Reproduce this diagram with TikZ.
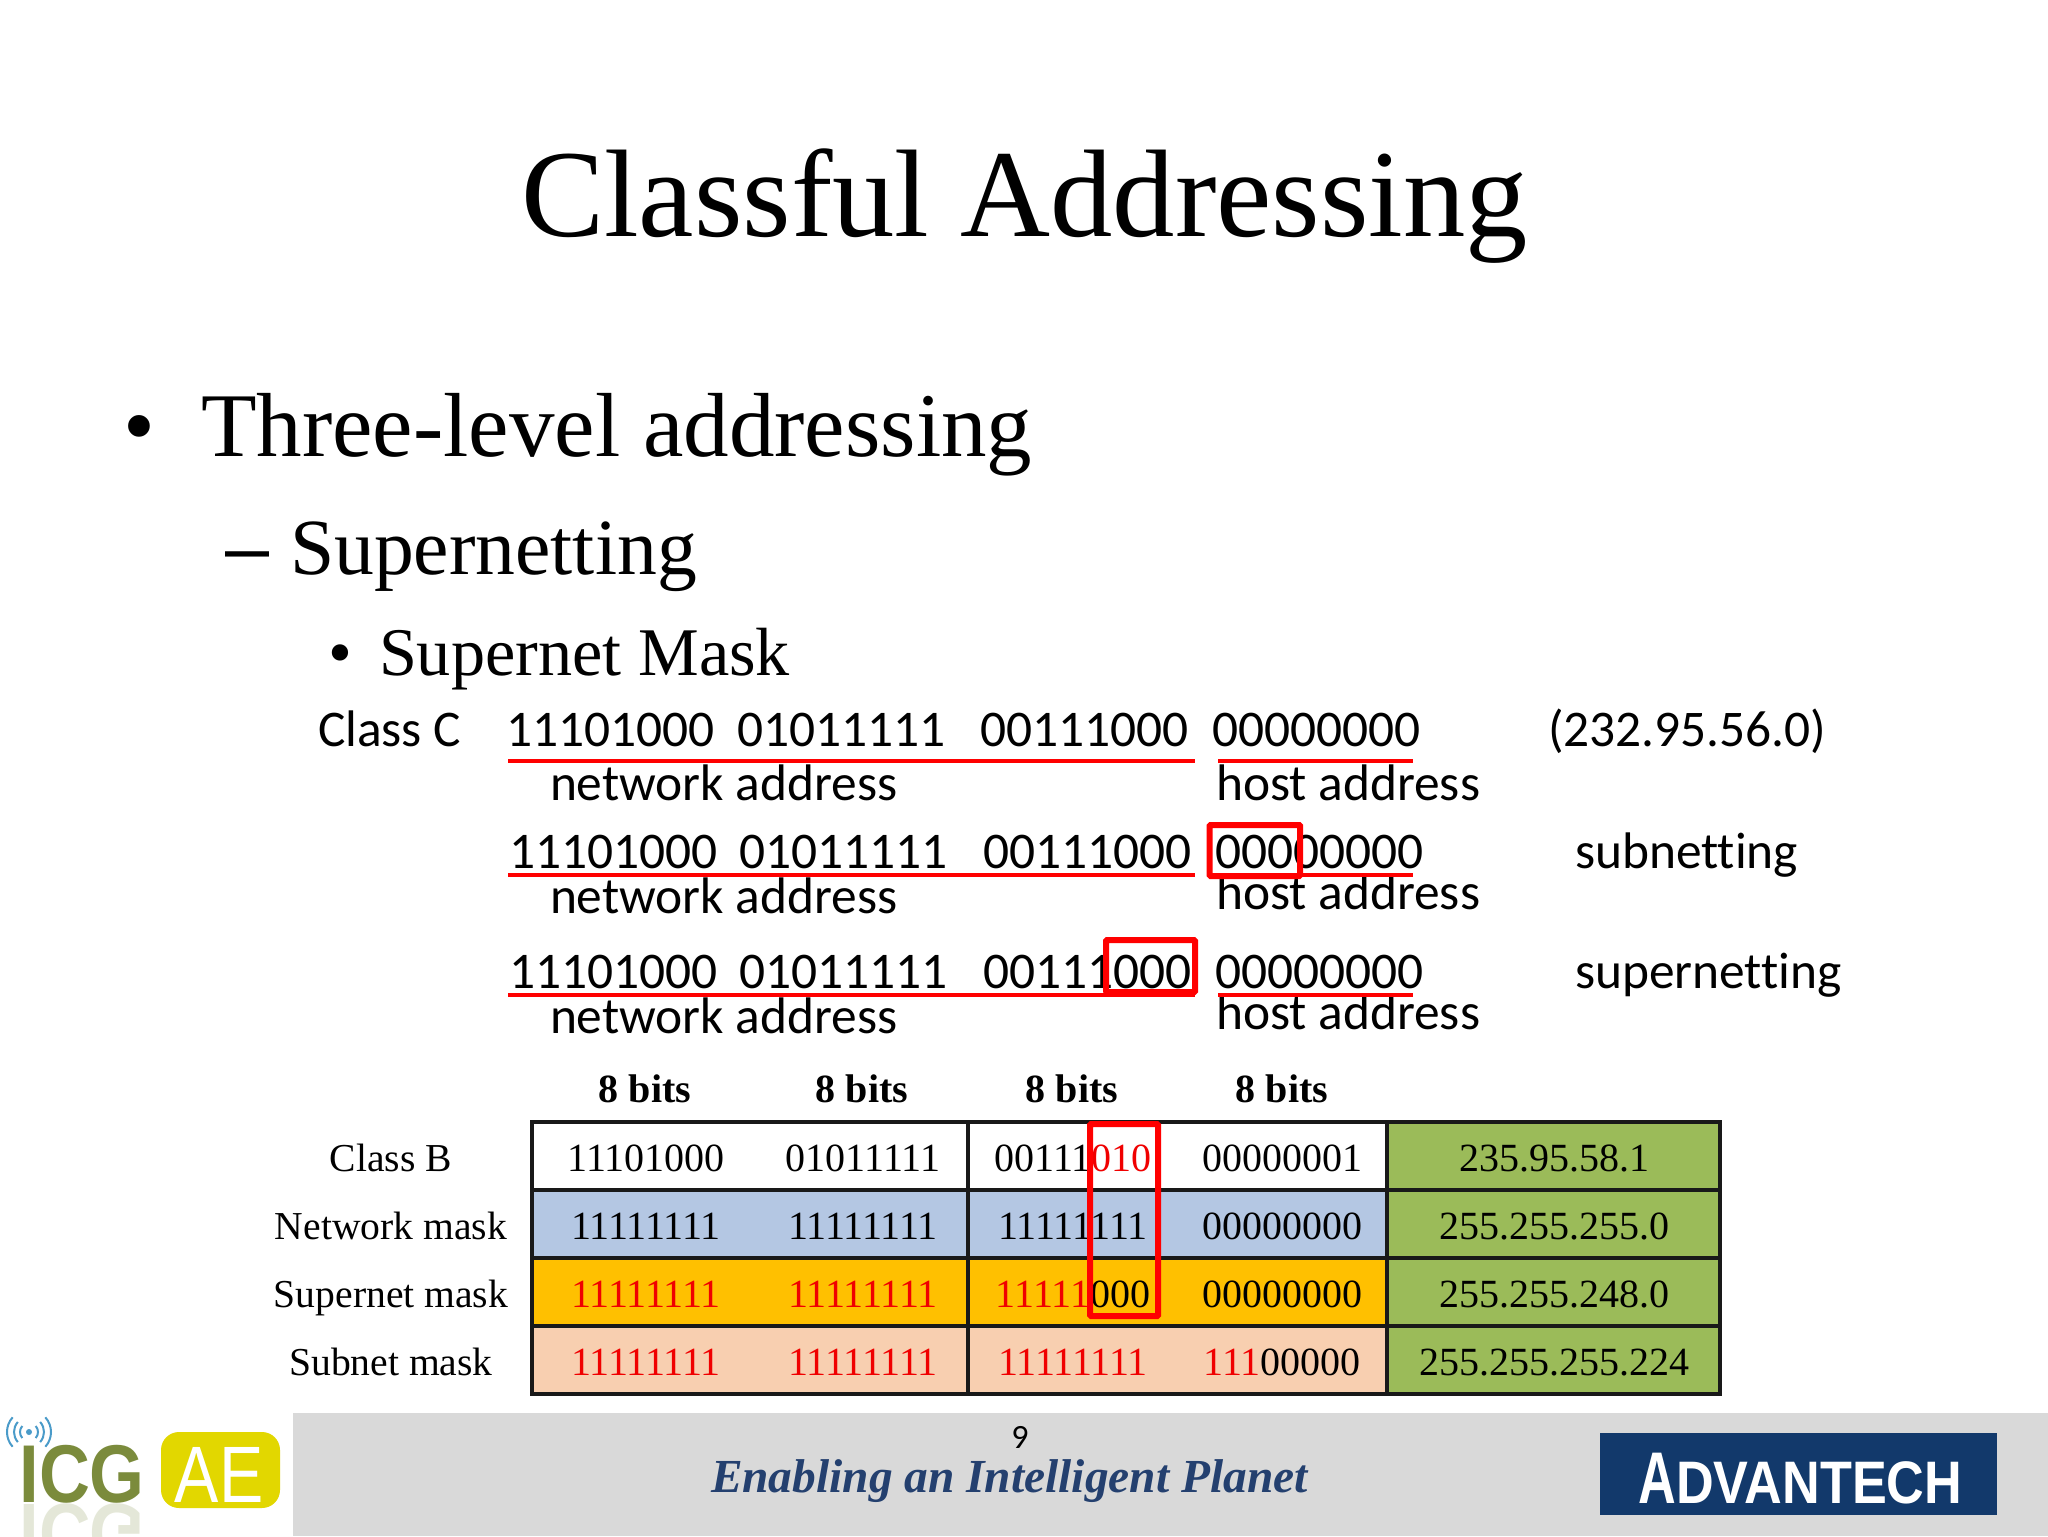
\documentclass[tikz,border=0pt]{standalone}
\usepackage{fontspec}
\usepackage{graphicx}
\setmainfont{Liberation Serif}
\newfontfamily\carl[Ligatures=NoCommon]{Carlito}
\newfontfamily\arl{Liberation Sans}
\definecolor{navy}{HTML}{12396B}
\definecolor{tagline}{HTML}{24406F}
\definecolor{band}{HTML}{D9D9D9}
\definecolor{cblue}{HTML}{B4C7E3}
\definecolor{corange}{HTML}{FFC000}
\definecolor{cpeach}{HTML}{F8CFB0}
\definecolor{cgreen}{HTML}{9BBB59}
\definecolor{olive}{HTML}{7B8B3C}
\definecolor{logoy}{HTML}{E2D700}
\definecolor{sig}{HTML}{4A9BC9}
\definecolor{redm}{HTML}{F00000}
\newcommand{\fs}[1]{\fontsize{#1}{#1}\selectfont}
\newcommand{\rd}[1]{\textcolor{redm}{#1}}
\usetikzlibrary{calc}
\tikzset{
  txt/.style={inner sep=0pt,outer sep=0pt,anchor=base west,font=\fs{25.7}\carl},
  serifline/.style={inner sep=0pt,outer sep=0pt,anchor=base west},
  cell/.style={inner sep=0pt,outer sep=0pt,anchor=base,font=\fs{20}},
  lab/.style={inner sep=0pt,outer sep=0pt,anchor=base,font=\fs{19.8}},
  grid/.style={line width=1.6pt,black!90},
  redline/.style={red,line width=2.2pt},
  redbox/.style={red,line width=3pt,rounded corners=0.5pt},
}
\begin{document}
\begin{tikzpicture}[x=0.5pt,y=-0.5pt]
\useasboundingbox (0,0) rectangle (2048,1536);
\fill[white] (0,0) rectangle (2048,1536);

% footer
\fill[band] (293,1413) rectangle (2048,1536);

% headings
\node[serifline,font=\fs{62.3}] (title) at (521,236) {Classful Addressing};
\node[serifline,font=\fs{45.5}] (b1) at (123,456) {•};
\node[serifline,font=\fs{45.5}] (l1) at (201,456) {Three-level addressing};
\node[serifline,font=\fs{39.6}\arl] (b2) at (225,574) {–};
\node[serifline,font=\fs{39.8}] (l2) at (290,574) {Supernetting};
\node[serifline,font=\fs{34.1}] (b3) at (328,675) {•};
\node[serifline,font=\fs{34.1}] (l3) at (379,675) {Supernet Mask};

% binary rows
\node[txt] (cc) at (318,746) {Class C};
\node[txt] (a1) at (506,746) {11101000};
\node[txt] (a2) at (737,746) {01011111};
\node[txt] (a3) at (980,746) {00111000};
\node[txt] (a4) at (1212,746) {00000000};
\node[txt] (ip) at (1548,746) {(232.95.56.0)};
\node[txt] (n1) at (550,800) {network address};
\node[txt] (h1) at (1216,800) {host address};

\node[txt] (b1a) at (509,868) {11101000};
\node[txt] (b2a) at (739,868) {01011111};
\node[txt] (b3a) at (983,868) {00111000};
\node[txt] (b4a) at (1215,868) {00000000};
\node[txt] (sub) at (1575,868) {subnetting};
\node[txt] (n2) at (550,913) {network address};
\node[txt] (h2) at (1216,909) {host address};

\node[txt] (c1a) at (509,988) {11101000};
\node[txt] (c2a) at (739,988) {01011111};
\node[txt] (c3a) at (983,988) {00111000};
\node[txt] (c4a) at (1215,988) {00000000};
\node[txt] (sup) at (1575,988) {supernetting};
\node[txt] (n3) at (550,1033) {network address};
\node[txt] (h3) at (1216,1029) {host address};

% red underlines
\draw[redline] (508,761) -- (1195,761);
\draw[redline] (1218,761) -- (1413,761);
\draw[redline] (508,875) -- (1195,875);
\draw[redline] (1218,875) -- (1413,875);
\draw[redline] (508,995) -- (1195,995);
\draw[redline] (1218,995) -- (1413,995);
\draw[redbox] (1209.5,825) rectangle (1300,876);
\draw[redbox] (1106,940) rectangle (1195,992);

% table fills
\fill[white] (532,1122) rectangle (1387,1190);
\fill[cblue] (532,1190) rectangle (1387,1258);
\fill[corange] (532,1258) rectangle (1387,1326);
\fill[cpeach] (532,1326) rectangle (1387,1394);
\fill[cgreen] (1387,1122) rectangle (1720,1394);
\draw[grid] (532,1122) rectangle (1720,1394);
\foreach \yy in {1190,1258,1326} \draw[grid] (532,\yy) -- (1720,\yy);
\foreach \xx in {968,1387} \draw[grid] (\xx,1122) -- (\xx,1394);

% table headers
\node[cell,font=\fs{20}\bfseries] (h8a) at (645,1102) {8 bits};
\node[cell,font=\fs{20}\bfseries] (h8b) at (862,1102) {8 bits};
\node[cell,font=\fs{20}\bfseries] (h8c) at (1072,1102) {8 bits};
\node[cell,font=\fs{20}\bfseries] (h8d) at (1282,1102) {8 bits};

% row labels
\node[lab] (lb) at (391,1171) {Class B};
\node[lab] (ln) at (391,1239) {Network mask};
\node[lab] (ls) at (391,1307) {Supernet mask};
\node[lab] (lu) at (391,1375) {Subnet mask};

% cells
\node[cell] (r1a) at (646,1171) {11101000};
\node[cell] (r1b) at (863,1171) {01011111};
\node[cell] (r1c) at (1073,1171) {00111\rd{010}};
\node[cell] (r1d) at (1282,1171) {00000001};
\node[cell] (r1e) at (1554,1171) {235.95.58.1};

\node[cell] (r2a) at (646,1239) {11111111};
\node[cell] (r2b) at (863,1239) {11111111};
\node[cell] (r2c) at (1073,1239) {11111111};
\node[cell] (r2d) at (1282,1239) {00000000};
\node[cell] (r2e) at (1554,1239) {255.255.255.0};

\node[cell] (r3a) at (646,1307) {\rd{11111111}};
\node[cell] (r3b) at (863,1307) {\rd{11111111}};
\node[cell] (r3c) at (1073,1307) {\rd{11111}000};
\node[cell] (r3d) at (1282,1307) {00000000};
\node[cell] (r3e) at (1554,1307) {255.255.248.0};

\node[cell] (r4a) at (646,1375) {\rd{11111111}};
\node[cell] (r4b) at (863,1375) {\rd{11111111}};
\node[cell] (r4c) at (1073,1375) {\rd{11111111}};
\node[cell] (r4d) at (1282,1375) {\rd{111}00000};
\node[cell] (r4e) at (1554,1375) {255.255.255.224};

\draw[redbox] (1090,1124) rectangle (1158,1316);

% footer text
\node[inner sep=0pt,anchor=base,font=\fs{17}\carl] (pg) at (1020,1448) {9};
\node[serifline,font=\fs{23.7}\bfseries\itshape,text=tagline] (tag) at (711,1492) {Enabling an Intelligent Planet};

% Advantech logo
\fill[navy] (1600,1433) rectangle (1997,1515);
\node[inner sep=0pt,anchor=base west,text=white,font=\fs{30}\arl\bfseries] (adv) at (1638,1503)
  {\scalebox{0.87}[1]{\scalebox{1}[1.22]{A}DVANTECH}};

% ICG AE logo
\node[inner sep=0pt,anchor=base west,text=olive,font=\fs{41}\arl\bfseries] (icg) at (19,1502) {\scalebox{0.86}[1]{ICG}};
\begin{scope}[opacity=0.2]
\node[inner sep=0pt,anchor=base west,text=olive,font=\fs{41}\arl\bfseries,yscale=-1,transform shape] (icgr) at (19,1504) {\scalebox{0.86}[1]{ICG}};
\end{scope}
\fill[logoy,rounded corners=9pt] (161,1432) rectangle (280,1508);
\node[inner sep=0pt,anchor=base,text=white,font=\fs{40}\arl] (ae) at (219,1502) {\scalebox{.83}[1]{AE}};
\fill[sig] (29,1432) circle (3);
\foreach \rr in {9,15,22} {
  \draw[sig,line width=1pt] ($(29,1432)+(-42:\rr)$) arc[start angle=-42,end angle=42,radius=\rr];
  \draw[sig,line width=1pt] ($(29,1432)+(138:\rr)$) arc[start angle=138,end angle=222,radius=\rr];
}
\end{tikzpicture}
\end{document}
